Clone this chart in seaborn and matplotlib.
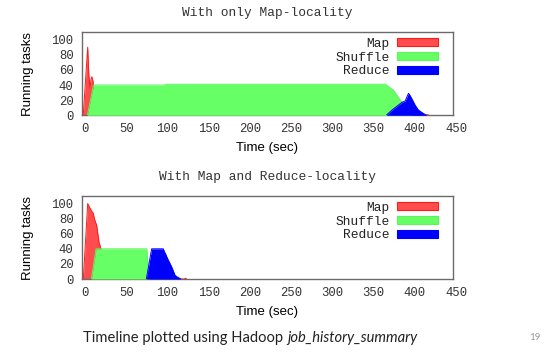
import numpy as np
import pandas as pd
import matplotlib
matplotlib.use("Agg")
import matplotlib.pyplot as plt
import matplotlib.transforms as mtransforms
from matplotlib.patches import Patch
import seaborn as sns

# ---------------- data ----------------
series_names = ["Map", "Shuffle", "Reduce"]
titles = ["With only Map-locality", "With Map and Reduce-locality"]
x_ticks = [0, 50, 100, 150, 200, 250, 300, 350, 400, 450]
y_ticks = [0, 20, 40, 60, 80, 100]

# Chart 1: only Map-locality
map1_t = [0, 1.5, 6.9, 8.2, 9.7, 11.0, 12.0, 13.5, 15.0, 16.5, 417, 419, 421]
map1_v = [0, 0, 90, 55, 36, 48, 51, 44, 20, 0, 0, 1, 0]
shuf1_t = [0, 6.5, 14, 100, 102, 368, 378, 386, 390, 395, 400]
shuf1_v = [0, 0, 40, 40, 41, 41, 33, 20, 16, 8, 0]
red1_t = [369, 376, 382, 388, 392, 394, 396, 398, 401, 404, 408, 414, 418]
red1_v = [0, 7, 12, 17, 19, 24, 29, 26, 20, 13.5, 7, 2.5, 0]

# Chart 2: Map and Reduce-locality
map2_t = [0, 1.6, 6.9, 9.7, 11.7, 13.7, 15.0, 17.8, 20.6, 23.0, 26.0, 124, 125.5, 127]
map2_v = [0, 0, 100, 94, 90, 87, 80, 71, 49, 40, 0, 0, 1, 0]
shuf2_t = [0, 11.5, 17, 78.5, 81.7]
shuf2_v = [0, 0, 40, 40, 0]
red2_t = [0, 78, 84.5, 98.6, 100, 101.5, 103, 104.7, 107, 108.8, 111, 112.8, 115, 116.8, 120]
red2_v = [0, 0, 40, 40, 36, 33, 29, 25, 20, 16, 10, 5, 3, 2, 0]

footer_plain = "Timeline plotted using Hadoop "
footer_italic = "job_history_summary"
page_no = "19"

# ---------------- style ----------------
sns.set_style("white")
plt.rcParams["font.family"] = ["Liberation Mono", "DejaVu Sans Mono"]

fill_colors = {"Map": "#ff4d4d", "Shuffle": "#66ff66", "Reduce": "#0000ff"}
edge_colors = {"Map": "#ff1a1a", "Shuffle": "#5cf55c", "Reduce": "#0000ff"}

fig = plt.figure(figsize=(5.46, 3.58), dpi=100)
W, H = 546, 358

def ax_rect(left, top, right, bottom):
    return [left / W, 1 - bottom / H, (right - left) / W, (bottom - top) / H]

axes = [fig.add_axes(ax_rect(82, 32, 453, 115.3)),
        fig.add_axes(ax_rect(82, 196, 453, 279))]

datasets = [
    [(map1_t, map1_v), (shuf1_t, shuf1_v), (red1_t, red1_v)],
    [(map2_t, map2_v), (shuf2_t, shuf2_v), (red2_t, red2_v)],
]

title_y = [13, 177]
xlabel_y = [148, 312]


def outline_frame(t, v):
    """Keep only points that belong to a raised part, split into segments."""
    rows = []
    seg = 0
    prev_keep = False
    n = len(v)
    for j in range(n):
        keep = v[j] > 0 or (j > 0 and v[j - 1] > 0) or (j < n - 1 and v[j + 1] > 0)
        if keep and not prev_keep:
            seg += 1
        if keep:
            rows.append((t[j], v[j], seg))
        prev_keep = keep
    return pd.DataFrame(rows, columns=["t", "v", "seg"])


shift = mtransforms.ScaledTranslation(3 / 100, 0, fig.dpi_scale_trans)

for i, ax in enumerate(axes):
    for k, (name, (t, v)) in enumerate(zip(series_names, datasets[i])):
        df = pd.DataFrame({"t": t, "v": v})
        ax.fill_between(df["t"], 0, df["v"], color=fill_colors[name],
                        linewidth=0, zorder=2 + 2 * k)
        edf = outline_frame(t, v)
        sns.lineplot(data=edf, x="t", y="v", units="seg", ax=ax,
                     color=edge_colors[name], linewidth=0.7, estimator=None,
                     sort=False, zorder=3 + 2 * k)
    ax.set_xlim(0, 450)
    ax.set_ylim(0, 110)
    ax.set_xticks(x_ticks)
    ax.set_yticks(y_ticks)
    ax.set_xticklabels([str(x) for x in x_ticks], fontsize=8.8, color="#333333")
    ax.set_yticklabels([str(y) for y in y_ticks], fontsize=8.8, color="#333333")
    ax.tick_params(axis="x", length=0, pad=5.5)
    ax.tick_params(axis="y", length=0, pad=6)
    for lab in ax.get_xticklabels():
        lab.set_transform(lab.get_transform() + shift)
    for sp in ax.spines.values():
        sp.set_color("#6b6b6b")
        sp.set_linewidth(1.0)
        sp.set_visible(True)
    ax.set_xlabel("")
    ax.set_ylabel("")
    handles = [Patch(facecolor=fill_colors[n], edgecolor=edge_colors[n], linewidth=0.8)
               for n in series_names]
    leg = ax.legend(handles, series_names, loc="upper right",
                    bbox_to_anchor=(0.9596, 0.93), frameon=False,
                    markerfirst=False, handlelength=3.2, handleheight=0.55,
                    handletextpad=0.55, labelspacing=0.14, borderpad=0,
                    borderaxespad=0, fontsize=9.3)
    for txt in leg.get_texts():
        txt.set_color("#222222")
    fig.text(267.5 / W, 1 - title_y[i] / H, titles[i], ha="center", va="center",
             fontsize=9.3, color="#333333")
    fig.text(267.5 / W, 1 - xlabel_y[i] / H, "Time (sec)", ha="center", va="center",
             fontsize=9.5, color="black", family=["Liberation Sans", "DejaVu Sans"])
    yc = (32 + 115.3) / 2 if i == 0 else (196 + 279) / 2
    fig.text(28 / W, 1 - yc / H, "Running tasks", ha="center", va="center",
             rotation=90, fontsize=9.5, color="black",
             family=["Liberation Sans", "DejaVu Sans"])

# footer
ft = fig.text(83 / W, 1 - 338 / H, footer_plain, ha="left", va="center",
              fontsize=10.6, color="#222222", family=["Lato", "DejaVu Sans"])
fig.canvas.draw()
bb = ft.get_window_extent()
fig.text(bb.x1 / fig.bbox.width, 1 - 338 / H, footer_italic, ha="left", va="center",
         fontsize=10.6, color="#222222", style="italic", family=["Lato", "DejaVu Sans"])
fig.text(535 / W, 1 - 338 / H, page_no, ha="center", va="center",
         fontsize=7, color="#9a9a9a", family=["Lato", "DejaVu Sans"])

fig.savefig("out.png", dpi=100)
